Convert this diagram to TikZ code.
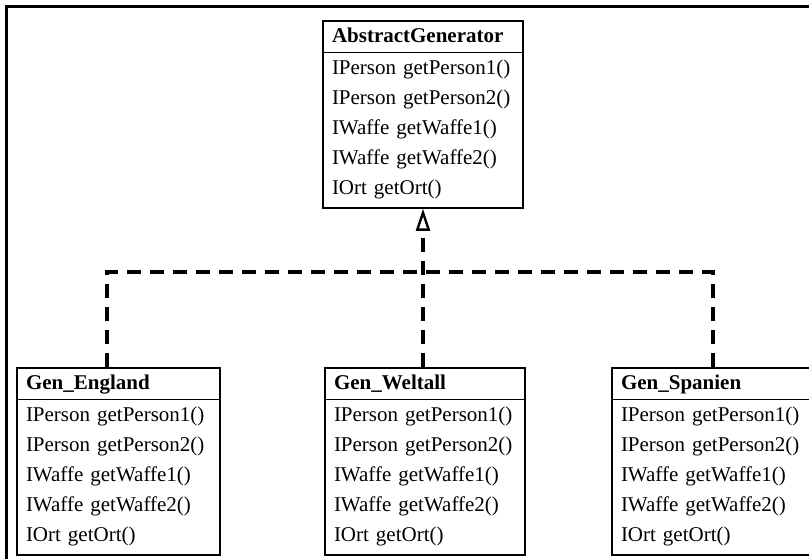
\documentclass[tikz,border=0pt]{standalone}
\usepackage{fontspec}
\setmainfont{Liberation Serif}
\usetikzlibrary{shapes.multipart,arrows.meta}

\newcommand{\kopf}[1]{\bfseries\strut #1}
\newcommand{\methoden}{\mdseries
  \strut IPerson getPerson1()\\
  \strut IPerson getPerson2()\\
  \strut IWaffe getWaffe1()\\
  \strut IWaffe getWaffe2()\\
  \strut IOrt getOrt()\rule[-13pt]{0pt}{13pt}}

\tikzset{
  klasse/.style={draw, line width=1.6pt, rectangle split, rectangle split parts=2,
    text width=182pt, align=left, inner xsep=9pt, inner ysep=0pt,
    font=\fontsize{21}{30}\selectfont, anchor=north},
  strich/.style={line width=3.6pt, dash pattern=on 14pt off 9pt},
  rahmen/.style={line width=3pt}
}

\begin{document}
\begin{tikzpicture}[x=1pt,y=-1pt]
\useasboundingbox (0,0) rectangle (809,559);
\draw[rahmen] (6,559) -- (6,7) -- (809,7);

% Klassen
\node[klasse] (abstract) at (423,20) {\kopf{AbstractGenerator}\nodepart{two}\methoden};
\node[klasse, text width=185pt] (england) at (118.5,367) {\kopf{Gen\_England}\nodepart{two}\methoden};
\node[klasse] (weltall) at (425,367) {\kopf{Gen\_Weltall}\nodepart{two}\methoden};
\node[klasse] (spanien) at (712,367) {\kopf{Gen\_Spanien}\nodepart{two}\methoden};

% Vererbung
\coordinate (eckeL) at (107,272);
\coordinate (eckeR) at (713,272);
\draw[strich] (eckeL |- england.north) -- (eckeL) -- (eckeR) -- (eckeR |- spanien.north);
\draw[strich, -{Triangle[open, line width=2.4pt, length=22pt, width=14pt]}]
  (abstract.south |- weltall.north) -- (abstract.south);
\end{tikzpicture}
\end{document}
